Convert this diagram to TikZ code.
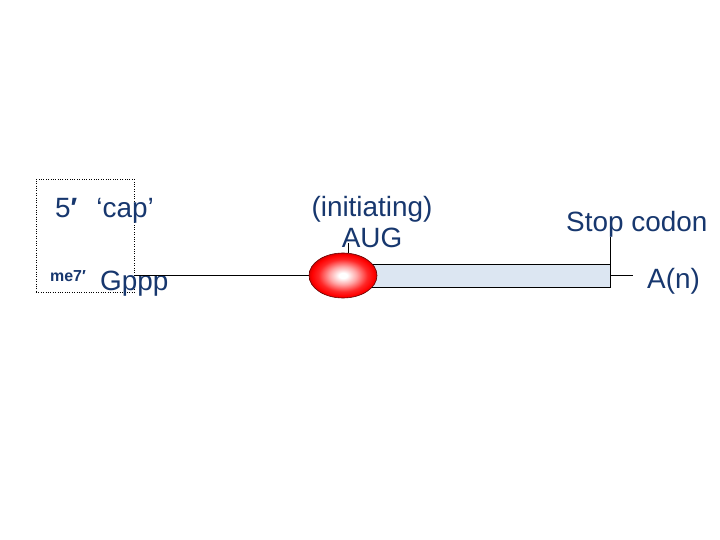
\documentclass[tikz,border=0pt]{standalone}
\usepackage{fontspec}
\setmainfont{Liberation Sans}
\usetikzlibrary{shapes.geometric}
\definecolor{labelblue}{RGB}{23,55,110}
\definecolor{cdsblue}{RGB}{220,230,242}
\pgfdeclareradialshading{ribofill}{\pgfpoint{0bp}{0bp}}{color(0bp)=(white); color(3bp)=(white); color(10bp)=(red!35); color(18bp)=(red!85); color(23bp)=(red); color(25bp)=(red!85!black); color(50bp)=(red!85!black)}
\tikzset{
  label text/.style={text=labelblue, inner sep=0pt, font=\fontsize{28}{32}\selectfont},
  rna line/.style={black, line width=0.8bp}
}

\begin{document}
\begin{tikzpicture}[x=1bp, y=-1bp]
\useasboundingbox (0,0) rectangle (720,540);

\coordinate (LineStart) at (134,275);
\coordinate (LineEnd) at (633,275);
\coordinate (CdsTL) at (343,264); \coordinate (CdsBR) at (610,287);
\coordinate (StopTop) at (610,237);
\coordinate (AugTop) at (348,243);

\node [draw, dotted, minimum width=98bp, minimum height=113bp, inner sep=0pt] (capbox) at (85,235.5) {};

\node [label text, anchor=base west] (cap) at (55,218) {5\textbf{′}\hspace{19bp}‘cap’};
\node [label text, anchor=base west, font=\fontsize{16}{18}\selectfont\bfseries] (me) at (50,282) {me7′};
\node [label text, anchor=base west] (gppp) at (100,290) {Gppp};

\draw [rna line] (LineStart) -- (LineEnd);
\draw [rna line, fill=cdsblue] (CdsTL) rectangle (CdsBR);
\draw [rna line] (CdsBR |- CdsTL) -- (StopTop);

\node [ellipse, draw=red!40!black, line width=0.6bp, minimum width=68bp, minimum height=45bp,
  inner sep=0pt, shading=ribofill] (ribo) at (343,275.5) {};
\draw [rna line] (ribo.north -| AugTop) -- (AugTop);

\node [label text, anchor=base] (init) at (372,217) {(initiating)};
\node [label text, anchor=base] (aug) at (372,248) {AUG};
\node [label text, anchor=base west] (stop) at (566,232) {Stop codon};
\node [label text, anchor=base west] (polya) at (647,288) {A(n)};

\end{tikzpicture}
\end{document}
